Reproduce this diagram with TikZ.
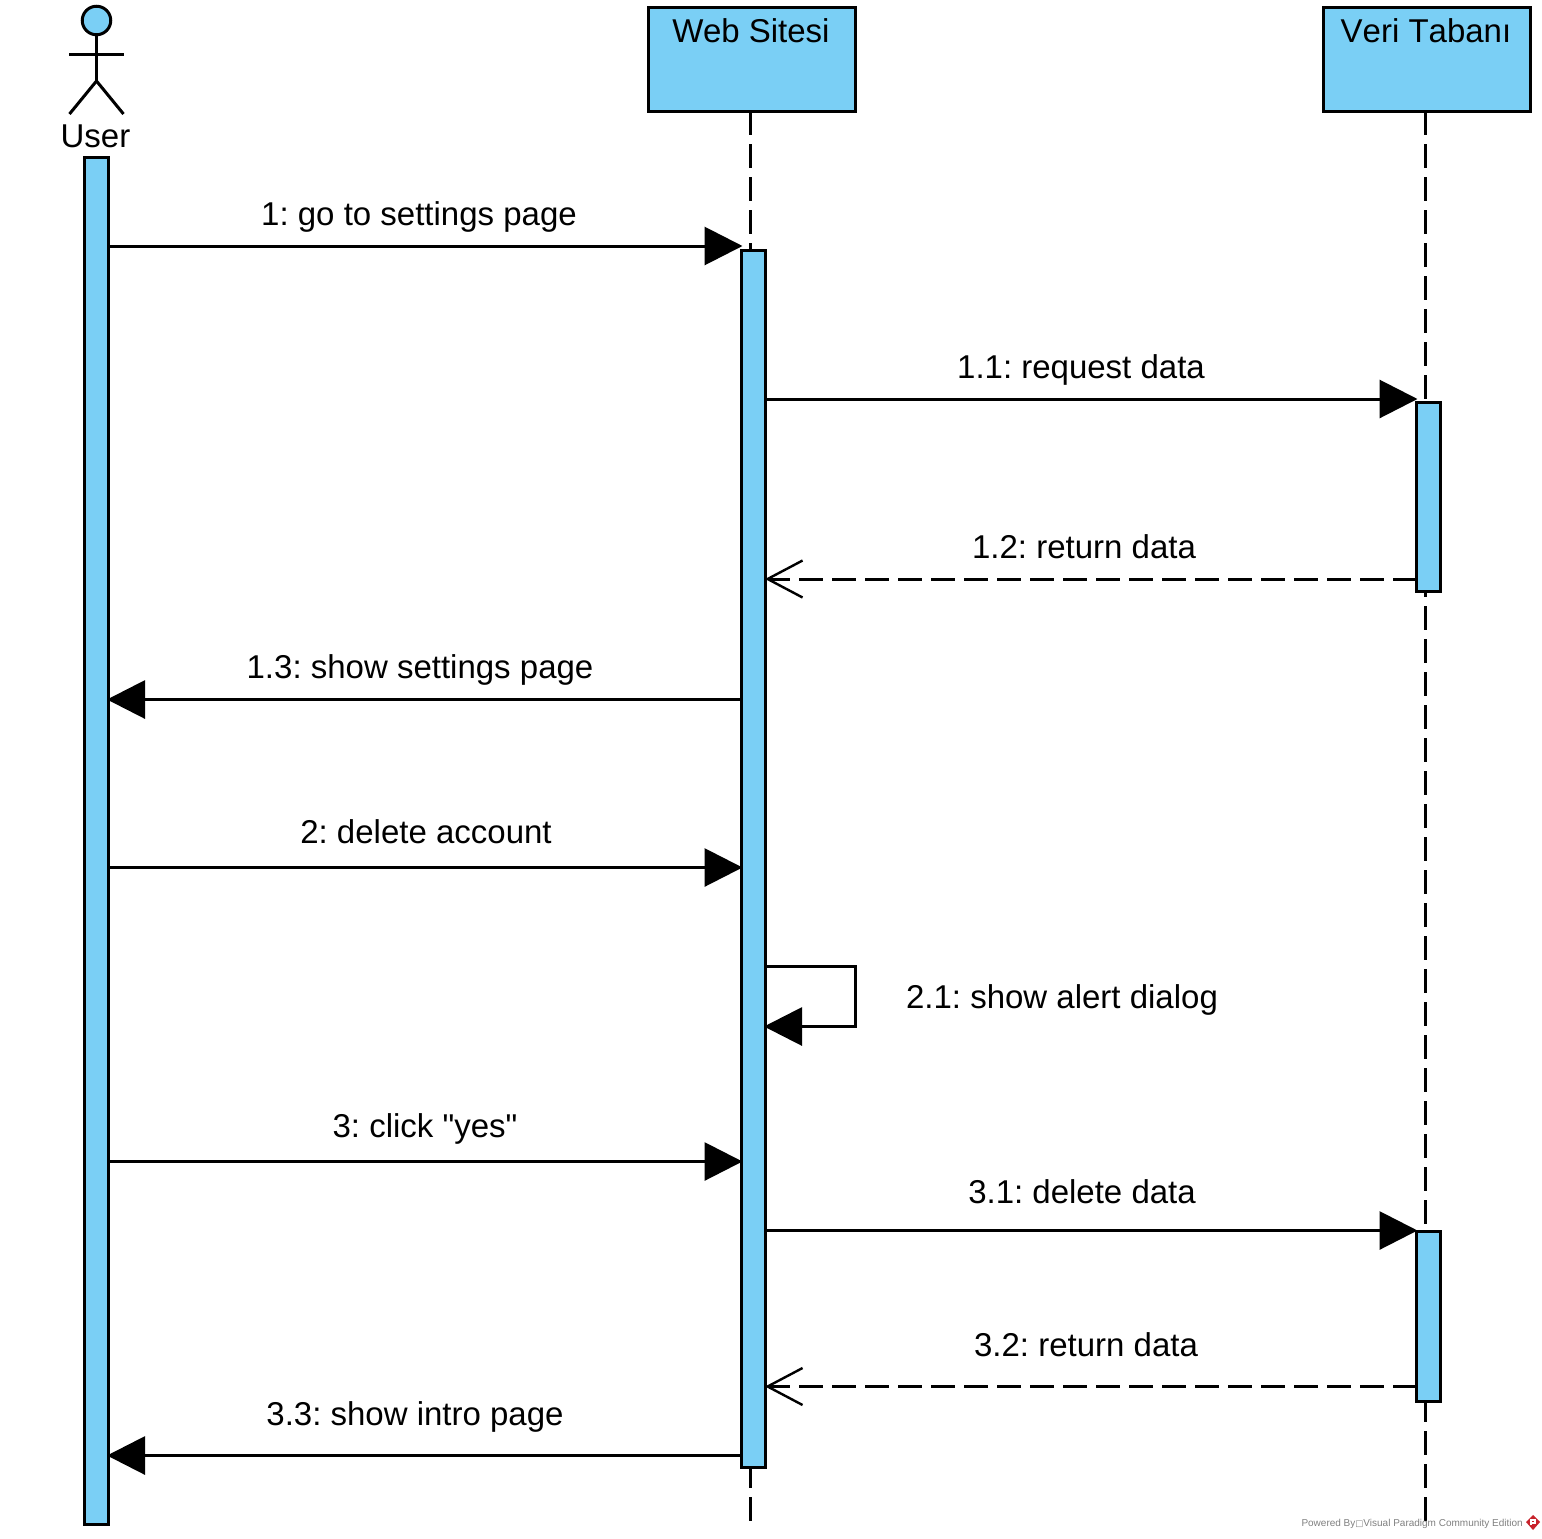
\documentclass[tikz,border=0pt]{standalone}
\usepackage{fontspec}
\setmainfont{Liberation Sans}
\newfontfamily\plainfont{Liberation Sans}
\newfontfamily\symfont{DejaVu Sans}
\usetikzlibrary{arrows.meta,calc}
\definecolor{vpblue}{HTML}{7ACFF5}
\definecolor{vpgray}{HTML}{808080}
\definecolor{vpred}{HTML}{C8232C}
\tikzset{
  x=1pt,y=-1pt,
  every path/.style={line width=3pt},
  lifebox/.style={draw=black,fill=vpblue,rectangle,inner sep=0pt,outer sep=0pt,minimum width=207pt,minimum height=104pt,line width=3pt,anchor=north west},
  barbox/.style={draw=black,fill=vpblue,rectangle,inner sep=0pt,outer sep=0pt,minimum width=23.5pt,line width=3pt,anchor=north west},
  txt/.style={font=\plainfont\frenchspacing\fontsize{33}{38}\selectfont,anchor=base,inner sep=0pt},
  lifeline/.style={draw=black,line width=3pt,dash pattern=on 24pt off 9pt},
  syncmsg/.style={draw=black,line width=3pt,shorten >=-1pt,-{Triangle[length=38pt,width=38pt,fill=black]}},
  replymsg/.style={draw=black,line width=3pt,dash pattern=on 24pt off 9pt,-{Straight Barb[length=35pt,width=37pt,line width=2.4pt]}},
}
\begin{document}
\begin{tikzpicture}
\useasboundingbox[fill=white] (0,0) rectangle (1542,1539);
% lifeline heads
\node[lifebox] (web) at (648,7) {};
\node[lifebox] (db) at (1323,7) {};
% coordinates for lifeline ends
\coordinate (webend) at (750.5,1522);
\coordinate (dbend) at (1425.5,1522);
\coordinate (webtop) at (750.5,111);
\coordinate (dbtop) at (1425.5,111);
% lifelines
\draw[lifeline] (webtop) -- (webend);
\draw[lifeline] (dbtop) -- (dbend);
% activation bars
\node[barbox,minimum height=1367pt] (userbar) at (84.5,157) {};
\node[barbox,minimum height=1217pt] (webbar) at (741.5,250) {};
\node[barbox,minimum height=189pt] (dbbar) at (1416.5,402) {};
\node[barbox,minimum height=170pt] (dbbarb) at (1416.5,1231) {};
% actor
\node[circle,draw=black,fill=vpblue,line width=3pt,minimum size=28.5pt,inner sep=0pt,outer sep=0pt] (head) at (96.5,20.5) {};
\coordinate (hip) at (96.5,81);
\coordinate (armL) at (69,54);
\coordinate (armR) at (124,54);
\coordinate (legL) at (69.5,114);
\coordinate (legR) at (123.5,114);
\draw (head.south) -- (hip);
\draw (armL) -- (armR);
\draw (legL) -- (hip) -- (legR);
% labels
\node[txt] (luser) at (95.5,147) {User};
\node[txt] (lweb) at (751,42) {Web Sitesi};
\node[txt] (ldb) at (1426,42) {\addfontfeature{Kerning=Off}Veri Tabanı};
\node[txt] (m1) at (419,225) {1: go to settings page};
\node[txt] (m11) at (1081,378) {1.1: request data};
\node[txt] (m12) at (1084,558) {1.2: return data};
\node[txt] (m13) at (420,678) {1.3: show settings page};
\node[txt] (m2) at (426,843) {2: delete account};
\node[txt] (m21) at (1062,1008) {2.1: show alert dialog};
\node[txt] (m3) at (425,1137) {3: click "yes"};
\node[txt] (m31) at (1082,1203) {3.1: delete data};
\node[txt] (m32) at (1086,1356) {3.2: return data};
\node[txt] (m33) at (415,1425) {3.3: show intro page};
% messages
\coordinate (y1) at (0,246);
\coordinate (y11) at (0,399);
\coordinate (y12) at (0,579);
\coordinate (y13) at (0,699.5);
\coordinate (y2) at (0,867.5);
\coordinate (y3) at (0,1161.5);
\coordinate (y31) at (0,1230.5);
\coordinate (y32) at (0,1386.5);
\coordinate (y33) at (0,1455.5);
\draw[syncmsg] (userbar.east |- y1) -- (webbar.west |- y1);
\draw[syncmsg] (webbar.east |- y11) -- (dbbar.west |- y11);
\draw[replymsg] (dbbar.west |- y12) -- (webbar.east |- y12);
\draw[syncmsg] (webbar.west |- y13) -- (userbar.east |- y13);
\draw[syncmsg] (userbar.east |- y2) -- (webbar.west |- y2);
\coordinate (selfa) at (855.5,966.5);
\coordinate (selfb) at (855.5,1026.5);
\draw[syncmsg] (webbar.east |- selfa) -- (selfa) -- (selfb) -- (webbar.east |- selfb);
\draw[syncmsg] (userbar.east |- y3) -- (webbar.west |- y3);
\draw[syncmsg] (webbar.east |- y31) -- (dbbarb.west |- y31);
\draw[replymsg] (dbbarb.west |- y32) -- (webbar.east |- y32);
\draw[syncmsg] (webbar.west |- y33) -- (userbar.east |- y33);
% footer
\node[anchor=base west,inner sep=0pt,text=vpgray,font=\plainfont\frenchspacing\fontsize{10}{12}\selectfont] (footer) at (1300,1526) {Powered By{\symfont\fontsize{8.5}{10}\selectfont □}Visual Paradigm Community Edition};
\fill[vpred] (1533,1515) -- (1540,1522) -- (1533,1530) -- (1526,1522) -- cycle;
\draw[white,line width=1.2pt] (1531,1525) -- (1531,1520) -- (1535,1520) -- (1535,1523) -- (1532,1523);
\end{tikzpicture}
\end{document}
